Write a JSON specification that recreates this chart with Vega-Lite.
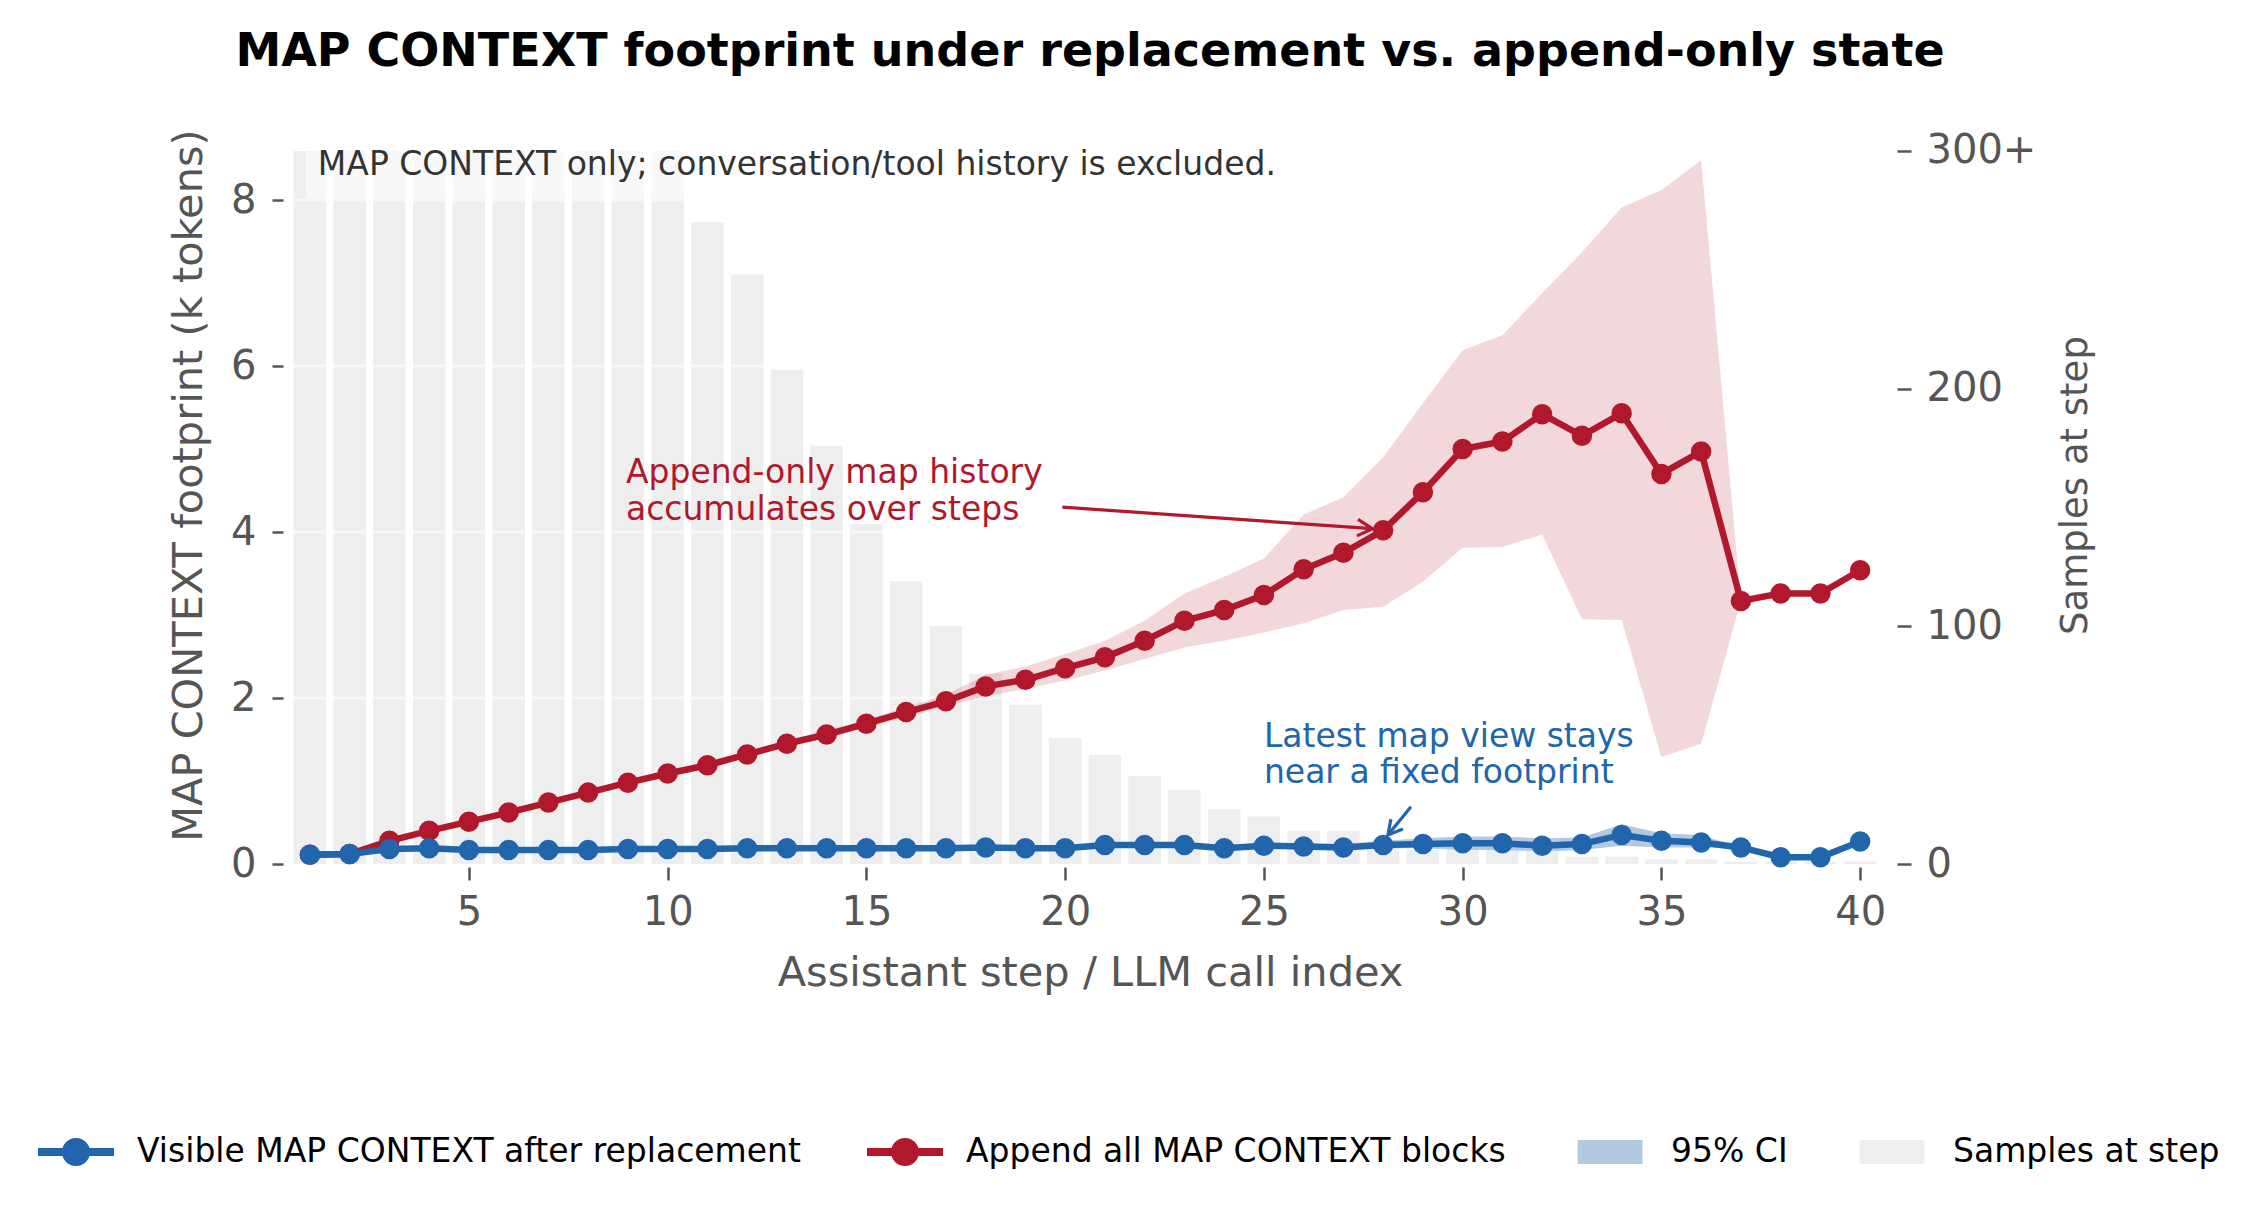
{
  "$schema": "https://vega.github.io/schema/vega-lite/v6.json",
  "width": 1602,
  "height": 758,
  "autosize": {"type": "none"},
  "padding": {"left": 289, "top": 106, "right": 373, "bottom": 351},
  "background": "white",
  "config": {
    "font": "DejaVu Sans",
    "view": {"stroke": null},
    "axis": {
      "domain": false,
      "grid": false,
      "labelFont": "DejaVu Sans",
      "titleFont": "DejaVu Sans",
      "labelColor": "#555555",
      "titleColor": "#555555",
      "tickColor": "#555555",
      "tickWidth": 2.5,
      "labelFontSize": 40,
      "titleFontSize": 41.5,
      "titleFontWeight": "normal"
    },
    "axisLeft": {"offset": 6, "tickSize": 11, "labelPadding": 16, "titlePadding": 20},
    "axisRight": {"offset": 6, "tickSize": 14, "labelPadding": 15, "titlePadding": 22, "titleFontSize": 37, "titleAngle": 270, "titleBaseline": "top"},
    "axisBottom": {"offset": 3, "tickSize": 13, "labelPadding": 12.5, "titlePadding": 20}
  },
  "title": {
    "text": "MAP CONTEXT footprint under replacement vs. append-only state",
    "font": "DejaVu Sans",
    "fontSize": 46,
    "fontWeight": "bold",
    "color": "#000000",
    "anchor": "middle",
    "frame": "group",
    "baseline": "alphabetic",
    "offset": -6
  },
  "datasets": {
    "steps": [
      {"step": 1, "n": 300, "visible": 0.11, "vis_lo": 0.10, "vis_hi": 0.12, "append": 0.11, "app_lo": 0.10, "app_hi": 0.12},
      {"step": 2, "n": 300, "visible": 0.12, "vis_lo": 0.11, "vis_hi": 0.13, "append": 0.12, "app_lo": 0.11, "app_hi": 0.13},
      {"step": 3, "n": 300, "visible": 0.18, "vis_lo": 0.17, "vis_hi": 0.19, "append": 0.28, "app_lo": 0.26, "app_hi": 0.30},
      {"step": 4, "n": 300, "visible": 0.19, "vis_lo": 0.18, "vis_hi": 0.20, "append": 0.40, "app_lo": 0.38, "app_hi": 0.42},
      {"step": 5, "n": 300, "visible": 0.17, "vis_lo": 0.16, "vis_hi": 0.18, "append": 0.51, "app_lo": 0.49, "app_hi": 0.53},
      {"step": 6, "n": 300, "visible": 0.17, "vis_lo": 0.16, "vis_hi": 0.18, "append": 0.62, "app_lo": 0.60, "app_hi": 0.64},
      {"step": 7, "n": 300, "visible": 0.17, "vis_lo": 0.16, "vis_hi": 0.18, "append": 0.74, "app_lo": 0.72, "app_hi": 0.76},
      {"step": 8, "n": 300, "visible": 0.17, "vis_lo": 0.16, "vis_hi": 0.18, "append": 0.86, "app_lo": 0.84, "app_hi": 0.88},
      {"step": 9, "n": 300, "visible": 0.18, "vis_lo": 0.17, "vis_hi": 0.19, "append": 0.98, "app_lo": 0.95, "app_hi": 1.01},
      {"step": 10, "n": 300, "visible": 0.18, "vis_lo": 0.17, "vis_hi": 0.19, "append": 1.09, "app_lo": 1.06, "app_hi": 1.12},
      {"step": 11, "n": 270, "visible": 0.18, "vis_lo": 0.17, "vis_hi": 0.19, "append": 1.19, "app_lo": 1.16, "app_hi": 1.22},
      {"step": 12, "n": 248, "visible": 0.19, "vis_lo": 0.18, "vis_hi": 0.20, "append": 1.32, "app_lo": 1.29, "app_hi": 1.35},
      {"step": 13, "n": 208, "visible": 0.19, "vis_lo": 0.18, "vis_hi": 0.20, "append": 1.45, "app_lo": 1.41, "app_hi": 1.49},
      {"step": 14, "n": 176, "visible": 0.19, "vis_lo": 0.18, "vis_hi": 0.21, "append": 1.56, "app_lo": 1.52, "app_hi": 1.61},
      {"step": 15, "n": 143, "visible": 0.19, "vis_lo": 0.18, "vis_hi": 0.21, "append": 1.69, "app_lo": 1.64, "app_hi": 1.74},
      {"step": 16, "n": 119, "visible": 0.19, "vis_lo": 0.18, "vis_hi": 0.21, "append": 1.83, "app_lo": 1.77, "app_hi": 1.89},
      {"step": 17, "n": 100, "visible": 0.19, "vis_lo": 0.17, "vis_hi": 0.21, "append": 1.96, "app_lo": 1.90, "app_hi": 2.04},
      {"step": 18, "n": 80, "visible": 0.20, "vis_lo": 0.18, "vis_hi": 0.22, "append": 2.14, "app_lo": 2.02, "app_hi": 2.28},
      {"step": 19, "n": 67, "visible": 0.19, "vis_lo": 0.17, "vis_hi": 0.21, "append": 2.22, "app_lo": 2.11, "app_hi": 2.38},
      {"step": 20, "n": 53, "visible": 0.19, "vis_lo": 0.17, "vis_hi": 0.22, "append": 2.36, "app_lo": 2.21, "app_hi": 2.53},
      {"step": 21, "n": 46, "visible": 0.23, "vis_lo": 0.20, "vis_hi": 0.26, "append": 2.49, "app_lo": 2.33, "app_hi": 2.69},
      {"step": 22, "n": 37, "visible": 0.23, "vis_lo": 0.20, "vis_hi": 0.26, "append": 2.69, "app_lo": 2.47, "app_hi": 2.93},
      {"step": 23, "n": 31, "visible": 0.23, "vis_lo": 0.20, "vis_hi": 0.26, "append": 2.93, "app_lo": 2.61, "app_hi": 3.26},
      {"step": 24, "n": 23, "visible": 0.19, "vis_lo": 0.16, "vis_hi": 0.22, "append": 3.06, "app_lo": 2.69, "app_hi": 3.46},
      {"step": 25, "n": 20, "visible": 0.22, "vis_lo": 0.19, "vis_hi": 0.25, "append": 3.24, "app_lo": 2.79, "app_hi": 3.68},
      {"step": 26, "n": 14, "visible": 0.21, "vis_lo": 0.18, "vis_hi": 0.25, "append": 3.55, "app_lo": 2.90, "app_hi": 4.21},
      {"step": 27, "n": 14, "visible": 0.20, "vis_lo": 0.17, "vis_hi": 0.24, "append": 3.75, "app_lo": 3.06, "app_hi": 4.42},
      {"step": 28, "n": 7, "visible": 0.23, "vis_lo": 0.19, "vis_hi": 0.28, "append": 4.02, "app_lo": 3.10, "app_hi": 4.90},
      {"step": 29, "n": 6, "visible": 0.24, "vis_lo": 0.19, "vis_hi": 0.31, "append": 4.48, "app_lo": 3.40, "app_hi": 5.55},
      {"step": 30, "n": 6, "visible": 0.25, "vis_lo": 0.17, "vis_hi": 0.33, "append": 5.00, "app_lo": 3.81, "app_hi": 6.19},
      {"step": 31, "n": 6, "visible": 0.25, "vis_lo": 0.17, "vis_hi": 0.33, "append": 5.09, "app_lo": 3.82, "app_hi": 6.37},
      {"step": 32, "n": 6, "visible": 0.22, "vis_lo": 0.15, "vis_hi": 0.31, "append": 5.42, "app_lo": 3.97, "app_hi": 6.88},
      {"step": 33, "n": 3, "visible": 0.24, "vis_lo": 0.17, "vis_hi": 0.32, "append": 5.16, "app_lo": 2.95, "app_hi": 7.37},
      {"step": 34, "n": 3, "visible": 0.35, "vis_lo": 0.22, "vis_hi": 0.48, "append": 5.43, "app_lo": 2.94, "app_hi": 7.91},
      {"step": 35, "n": 2, "visible": 0.28, "vis_lo": 0.20, "vis_hi": 0.37, "append": 4.70, "app_lo": 1.29, "app_hi": 8.12},
      {"step": 36, "n": 2, "visible": 0.26, "vis_lo": 0.20, "vis_hi": 0.35, "append": 4.97, "app_lo": 1.45, "app_hi": 8.48},
      {"step": 37, "n": 1, "visible": 0.20, "vis_lo": 0.20, "vis_hi": 0.20, "append": 3.17, "app_lo": 3.17, "app_hi": 3.17},
      {"step": 38, "n": 1, "visible": 0.08, "vis_lo": 0.08, "vis_hi": 0.08, "append": 3.26, "app_lo": 3.26, "app_hi": 3.26},
      {"step": 39, "n": 1, "visible": 0.08, "vis_lo": 0.08, "vis_hi": 0.08, "append": 3.26, "app_lo": 3.26, "app_hi": 3.26},
      {"step": 40, "n": 1, "visible": 0.27, "vis_lo": 0.27, "vis_hi": 0.27, "append": 3.54, "app_lo": 3.54, "app_hi": 3.54}
    ]
  },
  "data": {"name": "steps"},
  "layer": [
    {
      "mark": {"type": "bar", "size": 32.5},
      "encoding": {
        "x": {"field": "step", "type": "quantitative", "title": "Assistant step / LLM call index",
              "scale": {"domain": [0.6, 40.65], "nice": false, "zero": false},
              "axis": {"values": [5, 10, 15, 20, 25, 30, 35, 40], "format": "d"}},
        "y": {"field": "n", "type": "quantitative", "title": "Samples at step",
              "scale": {"domain": [0, 318.9], "nice": false, "zero": true},
              "axis": {"orient": "right", "values": [0, 100, 200, 300], "labelExpr": "datum.value === 300 ? '300+' : datum.label"}},
        "color": {
          "datum": "Samples at step",
          "type": "nominal",
          "scale": {
            "domain": ["Visible MAP CONTEXT after replacement", "Append all MAP CONTEXT blocks", "95% CI", "Samples at step"],
            "range": ["#2166ac", "#b2182b", "#b3c9e2", "#eeeeee"]
          },
          "legend": {
            "title": null,
            "orient": "none",
            "direction": "horizontal",
            "legendX": -251,
            "legendY": 1008,
            "padding": 0,
            "columnPadding": 66,
            "labelOffset": 23,
            "labelFont": "DejaVu Sans",
            "labelFontSize": 33,
            "labelColor": "#000000",
            "labelLimit": 2000,
            "symbolSize": 5776,
            "symbolType": "square",
            "encode": {
              "symbols": {
                "update": {
                  "shape": {"signal": "(datum.value === 'Visible MAP CONTEXT after replacement' || datum.value === 'Append all MAP CONTEXT blocks') ? 'M-1,-0.105H1V0.105H-1Z M0.37,0A0.37,0.37 0 1,1 -0.37,0A0.37,0.37 0 1,1 0.37,0Z' : 'M-0.855,-0.316H0.855V0.316H-0.855Z'"},
                  "size": {"value": 5776},
                  "fill": {"scale": "color", "field": "value"},
                  "fillOpacity": {"value": 1},
                  "opacity": {"value": 1},
                  "strokeWidth": {"value": 0}
                }
              }
            }
          }
        }
      }
    },
    {
      "layer": [
        {
          "data": {"values": [{}]},
          "mark": {"type": "rule", "color": "#ffffff", "strokeWidth": 3, "opacity": 0.55},
          "encoding": {"y": {"datum": 2, "type": "quantitative", "title": "MAP CONTEXT footprint (k tokens)"}}
        },
        {
          "data": {"values": [{}]},
          "mark": {"type": "rule", "color": "#ffffff", "strokeWidth": 3, "opacity": 0.55},
          "encoding": {"y": {"datum": 4, "type": "quantitative", "title": "MAP CONTEXT footprint (k tokens)"}}
        },
        {
          "data": {"values": [{}]},
          "mark": {"type": "rule", "color": "#ffffff", "strokeWidth": 3, "opacity": 0.55},
          "encoding": {"y": {"datum": 6, "type": "quantitative", "title": "MAP CONTEXT footprint (k tokens)"}}
        },
        {
          "data": {"values": [{}]},
          "mark": {"type": "rule", "color": "#ffffff", "strokeWidth": 3, "opacity": 0.55},
          "encoding": {"y": {"datum": 8, "type": "quantitative", "title": "MAP CONTEXT footprint (k tokens)"}}
        },
        {
          "data": {"values": [{}]},
          "mark": {"type": "rect", "color": "#ffffff", "opacity": 0.6},
          "encoding": {
            "x": {"datum": 0.9, "type": "quantitative", "title": "Assistant step / LLM call index"},
            "x2": {"datum": 26.0},
            "y": {"datum": 8.02, "type": "quantitative", "title": "MAP CONTEXT footprint (k tokens)"},
            "y2": {"datum": 8.9}
          }
        },
        {
          "mark": {"type": "area", "color": "#b2182b", "opacity": 0.17},
          "encoding": {
            "x": {"field": "step", "type": "quantitative", "title": "Assistant step / LLM call index"},
            "y": {"field": "app_lo", "type": "quantitative", "title": "MAP CONTEXT footprint (k tokens)",
                  "scale": {"domain": [0, 9.133], "nice": false, "zero": true},
                  "axis": {"values": [0, 2, 4, 6, 8], "format": "d"}},
            "y2": {"field": "app_hi"}
          }
        },
        {
          "mark": {"type": "area"},
          "encoding": {
            "x": {"field": "step", "type": "quantitative", "title": "Assistant step / LLM call index"},
            "y": {"field": "vis_lo", "type": "quantitative", "title": "MAP CONTEXT footprint (k tokens)"},
            "y2": {"field": "vis_hi"},
            "color": {"datum": "95% CI", "type": "nominal"}
          }
        },
        {
          "mark": {"type": "line", "strokeWidth": 6.5, "point": {"filled": true, "size": 420, "opacity": 1}},
          "encoding": {
            "x": {"field": "step", "type": "quantitative", "title": "Assistant step / LLM call index"},
            "y": {"field": "append", "type": "quantitative", "title": "MAP CONTEXT footprint (k tokens)"},
            "color": {"datum": "Append all MAP CONTEXT blocks", "type": "nominal"}
          }
        },
        {
          "mark": {"type": "line", "strokeWidth": 6.5, "point": {"filled": true, "size": 420, "opacity": 1}},
          "encoding": {
            "x": {"field": "step", "type": "quantitative", "title": "Assistant step / LLM call index"},
            "y": {"field": "visible", "type": "quantitative", "title": "MAP CONTEXT footprint (k tokens)"},
            "color": {"datum": "Visible MAP CONTEXT after replacement", "type": "nominal"}
          }
        },
        {
          "data": {"values": [{}]},
          "mark": {"type": "rule", "color": "#b2182b", "strokeWidth": 3.2},
          "encoding": {
            "x": {"datum": 19.93, "type": "quantitative", "title": "Assistant step / LLM call index"},
            "x2": {"datum": 27.73},
            "y": {"datum": 4.30, "type": "quantitative", "title": "MAP CONTEXT footprint (k tokens)"},
            "y2": {"datum": 4.04}
          }
        },
        {
          "data": {"values": [{}]},
          "mark": {"type": "point", "shape": "M-1,-0.55L0,0L-1,0.55", "filled": false, "color": "#b2182b", "strokeWidth": 3.2, "size": 900, "angle": 4, "opacity": 1},
          "encoding": {
            "x": {"datum": 27.73, "type": "quantitative", "title": "Assistant step / LLM call index"},
            "y": {"datum": 4.04, "type": "quantitative", "title": "MAP CONTEXT footprint (k tokens)"}
          }
        },
        {
          "data": {"values": [{}]},
          "mark": {"type": "rule", "color": "#2166ac", "strokeWidth": 3.2},
          "encoding": {
            "x": {"datum": 28.7, "type": "quantitative", "title": "Assistant step / LLM call index"},
            "x2": {"datum": 28.12},
            "y": {"datum": 0.69, "type": "quantitative", "title": "MAP CONTEXT footprint (k tokens)"},
            "y2": {"datum": 0.35}
          }
        },
        {
          "data": {"values": [{}]},
          "mark": {"type": "point", "shape": "M-1,-0.55L0,0L-1,0.55", "filled": false, "color": "#2166ac", "strokeWidth": 3.2, "size": 800, "angle": 129.4, "opacity": 1},
          "encoding": {
            "x": {"datum": 28.12, "type": "quantitative", "title": "Assistant step / LLM call index"},
            "y": {"datum": 0.35, "type": "quantitative", "title": "MAP CONTEXT footprint (k tokens)"}
          }
        },
        {
          "data": {"values": [{}]},
          "mark": {"type": "text", "align": "left", "baseline": "alphabetic", "font": "DejaVu Sans", "fontSize": 33, "lineHeight": 37, "color": "#b2182b"},
          "encoding": {
            "x": {"datum": 8.95, "type": "quantitative", "title": "Assistant step / LLM call index"},
            "y": {"datum": 4.59, "type": "quantitative", "title": "MAP CONTEXT footprint (k tokens)"},
            "text": {"value": ["Append-only map history", "accumulates over steps"]}
          }
        },
        {
          "data": {"values": [{}]},
          "mark": {"type": "text", "align": "left", "baseline": "alphabetic", "font": "DejaVu Sans", "fontSize": 33, "lineHeight": 36, "color": "#2166ac"},
          "encoding": {
            "x": {"datum": 25.0, "type": "quantitative", "title": "Assistant step / LLM call index"},
            "y": {"datum": 1.41, "type": "quantitative", "title": "MAP CONTEXT footprint (k tokens)"},
            "text": {"value": ["Latest map view stays", "near a fixed footprint"]}
          }
        },
        {
          "data": {"values": [{}]},
          "mark": {"type": "text", "align": "left", "baseline": "alphabetic", "font": "DejaVu Sans", "fontSize": 33, "color": "#333333"},
          "encoding": {
            "x": {"datum": 1.2, "type": "quantitative", "title": "Assistant step / LLM call index"},
            "y": {"datum": 8.30, "type": "quantitative", "title": "MAP CONTEXT footprint (k tokens)"},
            "text": {"value": "MAP CONTEXT only; conversation/tool history is excluded."}
          }
        }
      ]
    }
  ],
  "resolve": {"scale": {"y": "independent"}}
}
